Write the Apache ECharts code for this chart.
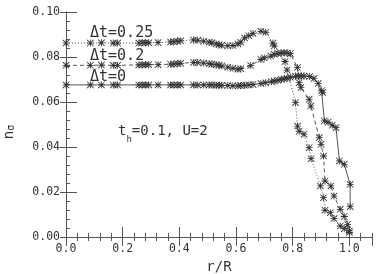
<!DOCTYPE html>
<html>
<head>
<meta charset="utf-8">
<script src="https://cdn.jsdelivr.net/npm/echarts@6/dist/echarts.min.js"></script>
<style>html,body{margin:0;padding:0;background:#fff}#c{width:382px;height:274px}</style>
</head>
<body>
<div id="c"></div>
<script>
// ---- data ----
const seriesNames = ['Δt=0', 'Δt=0.2', 'Δt=0.25'];

const rDt0 = [0, 0.086, 0.125, 0.167, 0.182, 0.257, 0.269, 0.281, 0.292, 0.325, 0.369, 0.381, 0.393, 0.405, 0.45, 0.465, 0.486, 0.505, 0.515, 0.53, 0.54, 0.55, 0.571, 0.589, 0.607, 0.617, 0.63, 0.645, 0.66, 0.688, 0.705, 0.725, 0.735, 0.748, 0.76, 0.77, 0.78, 0.792, 0.81, 0.82, 0.83, 0.84, 0.86, 0.875, 0.89, 0.902, 0.906, 0.912, 0.925, 0.94, 0.953, 0.965, 0.982, 1.003, 1.003];
const nDt0 = [0.0676, 0.0676, 0.0676, 0.0676, 0.0676, 0.0676, 0.0676, 0.0676, 0.0676, 0.0676, 0.0676, 0.0676, 0.0676, 0.0676, 0.0676, 0.0676, 0.0676, 0.0676, 0.0676, 0.0675, 0.0675, 0.0674, 0.0673, 0.0672, 0.0672, 0.0673, 0.0674, 0.0676, 0.0678, 0.0682, 0.0686, 0.069, 0.0693, 0.0697, 0.07, 0.0703, 0.0706, 0.071, 0.0714, 0.0716, 0.0716, 0.0716, 0.0713, 0.0704, 0.0682, 0.065, 0.0642, 0.0516, 0.051, 0.0497, 0.0486, 0.0338, 0.0323, 0.0234, 0.0135];

const rDt02 = [0, 0.086, 0.125, 0.167, 0.182, 0.257, 0.269, 0.281, 0.292, 0.325, 0.369, 0.381, 0.393, 0.405, 0.45, 0.465, 0.486, 0.505, 0.515, 0.53, 0.54, 0.55, 0.571, 0.589, 0.607, 0.617, 0.652, 0.688, 0.70, 0.723, 0.735, 0.748, 0.76, 0.77, 0.78, 0.792, 0.817, 0.823, 0.829, 0.858, 0.864, 0.894, 0.90, 0.909, 0.914, 0.935, 0.946, 0.968, 0.982, 0.994, 1.0];
const nDt02 = [0.0763, 0.0763, 0.0764, 0.0763, 0.0763, 0.0765, 0.0766, 0.0766, 0.0766, 0.0766, 0.0768, 0.0769, 0.077, 0.0772, 0.0776, 0.0776, 0.0773, 0.077, 0.0768, 0.0766, 0.0763, 0.076, 0.0755, 0.075, 0.0746, 0.0748, 0.0762, 0.0789, 0.0796, 0.0804, 0.0812, 0.0816, 0.0818, 0.0819, 0.0818, 0.0815, 0.0753, 0.0686, 0.0664, 0.0612, 0.0582, 0.0442, 0.0412, 0.036, 0.0249, 0.0227, 0.0182, 0.0123, 0.0091, 0.0056, 0.0027];

const rDt025 = [0, 0.086, 0.125, 0.167, 0.182, 0.257, 0.269, 0.281, 0.292, 0.325, 0.369, 0.381, 0.393, 0.405, 0.45, 0.465, 0.486, 0.505, 0.515, 0.53, 0.54, 0.55, 0.571, 0.589, 0.607, 0.617, 0.63, 0.645, 0.66, 0.688, 0.705, 0.73, 0.735, 0.773, 0.78, 0.81, 0.817, 0.823, 0.84, 0.858, 0.865, 0.898, 0.909, 0.914, 0.933, 0.946, 0.968, 0.982, 1.0];
const nDt025 = [0.0862, 0.0862, 0.0863, 0.0862, 0.0862, 0.0862, 0.0863, 0.0863, 0.0863, 0.0864, 0.0867, 0.0868, 0.087, 0.0872, 0.0876, 0.0874, 0.087, 0.0866, 0.0863, 0.0858, 0.0855, 0.0852, 0.085, 0.0851, 0.0858, 0.0866, 0.0885, 0.0895, 0.0905, 0.0914, 0.091, 0.0862, 0.0849, 0.078, 0.0742, 0.0597, 0.0493, 0.047, 0.0457, 0.0397, 0.0348, 0.0227, 0.0175, 0.0119, 0.0108, 0.0082, 0.0049, 0.0037, 0.002];

const xTickLabels = ['0.0', '0.2', '0.4', '0.6', '0.8', '1.0'];
const yTickLabels = ['0.00', '0.02', '0.04', '0.06', '0.08', '0.10'];
const annotation = ['t', 'h', '=0.1, U=2'];

// ---- chart ----
const FONT = 'DejaVu Sans Mono';
const TXT = '#333';
const AX = '#555';
const star = 'path://M0,4.4H10V5.6H0Z M4.4,0H5.6V10H4.4Z M0.85,0L10,9.15L9.15,10L0,0.85Z M9.15,0L10,0.85L0.85,10L0,9.15Z';

function pairs(xs, ys) { return xs.map((x, i) => [x, ys[i]]); }

function mkX(pos, interval, len, inside, labels, showLine) {
  return {
    type: 'value', gridIndex: 0, position: pos, min: 0, max: 1.08, interval: interval,
    axisLine: { show: showLine, lineStyle: { color: AX, width: 1 } },
    axisTick: { show: true, inside: inside, length: len, lineStyle: { color: AX, width: 1 } },
    axisLabel: labels ? {
      show: true, showMaxLabel: false, margin: 6, color: TXT, fontFamily: FONT, fontSize: 11.5,
      formatter: v => { const i = Math.round(v / 0.2); return Math.abs(v - i * 0.2) < 1e-6 ? (xTickLabels[i] || '') : ''; }
    } : { show: false },
    splitLine: { show: false }
  };
}
function mkY(pos, interval, len, inside, labels, showLine) {
  return {
    type: 'value', gridIndex: 0, position: pos, min: 0, max: 0.1, interval: interval,
    axisLine: { show: showLine, lineStyle: { color: AX, width: 1 } },
    axisTick: { show: true, inside: inside, length: len, lineStyle: { color: AX, width: 1 } },
    axisLabel: labels ? {
      show: true, margin: 6, color: TXT, fontFamily: FONT, fontSize: 11.5,
      formatter: v => { const i = Math.round(v / 0.02); return yTickLabels[i] || ''; }
    } : { show: false },
    splitLine: { show: false }
  };
}

const xAxes = [
  Object.assign(mkX('bottom', 0.2, 10, true, true, true), {
    name: 'r/R', nameLocation: 'middle', nameGap: 17,
    nameTextStyle: { color: TXT, fontFamily: FONT, fontSize: 14 }
  }),
  mkX('bottom', 0.04, 4, true, false, false),
  mkX('top', 0.2, 9, true, false, true),
  mkX('top', 0.04, 4, true, false, false)
];
const yAxes = [
  mkY('left', 0.02, 11, true, true, true),
  mkY('left', 0.004, 4, true, false, false),
  mkY('right', 0.02, 6, true, false, true),
  mkY('right', 0.004, 4, false, false, false)
];

const lineTypes = ['solid', [4, 3], [1, 2]];
const dataSets = [pairs(rDt0, nDt0), pairs(rDt02, nDt02), pairs(rDt025, nDt025)];

const series = dataSets.map((d, i) => ({
  name: seriesNames[i], type: 'line', xAxisIndex: 0, yAxisIndex: 0,
  data: d, symbol: star, symbolSize: 7, showSymbol: true,
  itemStyle: { color: '#333' },
  lineStyle: { color: '#555', width: 1, type: lineTypes[i] },
  emphasis: { disabled: true }, silent: true
}));

const labelY = [77, 56.5, 33];
const graphics = seriesNames.map((s, i) => ({
  type: 'text', x: 90, y: labelY[i],
  style: { text: s, fill: TXT, font: '15px "' + FONT + '"', textAlign: 'left', textVerticalAlign: 'middle' }
}));
graphics.push({
  type: 'text', x: 118, y: 131,
  style: {
    text: '{a|' + annotation[0] + '}{b|' + annotation[1] + '}{a|' + annotation[2] + '}',
    textAlign: 'left', textVerticalAlign: 'middle', fill: TXT,
    rich: {
      a: { fontFamily: FONT, fontSize: 14, lineHeight: 26, verticalAlign: 'middle', fill: TXT },
      b: { fontFamily: FONT, fontSize: 9, lineHeight: 9, verticalAlign: 'bottom', fill: TXT }
    }
  }
});
graphics.push({
  type: 'text', x: 9, y: 132, rotation: Math.PI / 2,
  style: {
    text: '{n|n}{s|σ}', textAlign: 'center', textVerticalAlign: 'middle', fill: TXT,
    rich: {
      n: { fontFamily: FONT, fontSize: 14, lineHeight: 14, verticalAlign: 'middle', fill: TXT },
      s: { fontFamily: FONT, fontSize: 10, lineHeight: 8, verticalAlign: 'bottom', fill: TXT }
    }
  }
});

const chart = echarts.init(document.getElementById('c'), null, { renderer: 'canvas' });
chart.setOption({
  animation: false,
  backgroundColor: '#fff',
  grid: { left: 66, right: 10, top: 12, bottom: 37, containLabel: false, outerBoundsMode: 'none' },
  xAxis: xAxes,
  yAxis: yAxes,
  series: series,
  graphic: graphics
});
</script>
</body>
</html>
